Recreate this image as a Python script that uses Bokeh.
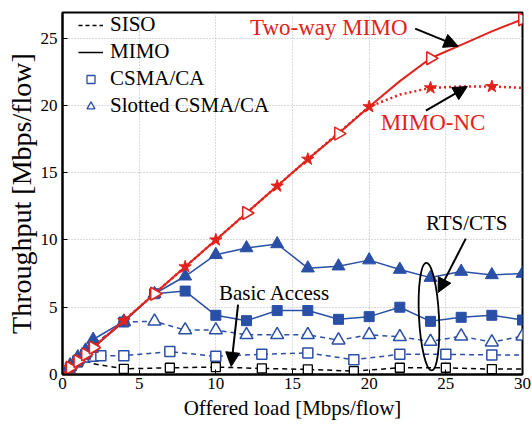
from bokeh.plotting import figure
from bokeh.models import (Range1d, FixedTicker, Legend, LegendItem, Arrow, NormalHead,
                          Label)
from bokeh.embed import file_html
from bokeh.resources import INLINE
import math

# ---------------- data ----------------
x_ticks = [0, 5, 10, 15, 20, 25, 30]
y_ticks = [0, 5, 10, 15, 20, 25]

# Two-way MIMO (red solid, open right-pointing triangles)
twoway_x = [0, 0.25, 0.5, 1, 1.5, 2, 4, 6, 8, 10, 12, 14, 16, 18, 20, 22, 24, 26, 28, 30]
twoway_y = [0, 0.25, 0.5, 1, 1.5, 2, 4, 6, 8, 10, 12, 14, 16, 17.9, 19.9, 21.8, 23.5, 24.5, 25.5, 26.4]
twoway_marks = [0.5, 1, 1.5, 2, 6, 12, 18, 24, 30]

# MIMO-NC (red dotted, stars)
nc_x = [0, 0.5, 1, 1.5, 2, 4, 8, 10, 14, 16, 20, 22, 24, 26, 28, 30]
nc_y = [0, 0.5, 1, 1.5, 2, 4, 8, 10, 14, 16, 19.9, 20.8, 21.3, 21.4, 21.4, 21.3]
nc_marks = [0.5, 1, 1.5, 2, 4, 8, 10, 14, 16, 20, 24, 28]

# MIMO, Slotted CSMA/CA, RTS/CTS (blue solid, filled triangles)
mimo_slot_x = [0, 0.5, 1, 1.5, 2, 4, 6, 8, 10, 12, 14, 16, 18, 20, 22, 24, 26, 28, 30]
mimo_slot_y = [0, 0.7, 1.3, 1.8, 2.6, 3.95, 6.0, 7.3, 8.9, 9.4, 9.7, 7.9, 8.05, 8.5, 7.8, 7.2, 7.65, 7.4, 7.5]

# MIMO, CSMA/CA, RTS/CTS (blue solid, filled squares)
mimo_csma_x = [0, 0.5, 1, 1.5, 2, 4, 6, 8, 10, 12, 14, 16, 18, 20, 22, 24, 26, 28, 30]
mimo_csma_y = [0, 0.5, 1.0, 1.5, 2.0, 3.9, 6.0, 6.2, 4.4, 4.0, 4.75, 4.75, 4.1, 4.3, 5.0, 3.95, 4.25, 4.4, 4.05]

# SISO, Slotted CSMA/CA (blue dashed, open triangles)
siso_slot_x = [0, 0.5, 1, 1.5, 2, 4, 6, 8, 10, 12, 14, 16, 18, 20, 22, 24, 26, 28, 30]
siso_slot_y = [0, 0.6, 1.1, 1.6, 2.2, 3.9, 3.95, 3.3, 3.3, 2.95, 2.95, 2.95, 2.55, 2.95, 2.8, 2.45, 2.85, 2.4, 2.85]

# SISO, CSMA/CA (blue dashed, open squares)
siso_csma_x = [0, 0.5, 1, 1.5, 2, 2.5, 4, 7, 10, 13, 16, 19, 22, 25, 28, 30]
siso_csma_y = [0, 0.5, 1.0, 1.3, 1.35, 1.4, 1.4, 1.7, 1.35, 1.5, 1.6, 1.1, 1.5, 1.5, 1.45, 1.45]
siso_csma_marks = [1, 1.5, 2, 2.5, 4, 7, 10, 13, 16, 19, 22, 25, 28]

# Basic access (black dashed, open squares)
basic_x = [0, 0.5, 1, 1.5, 2, 4, 7, 10, 13, 16, 19, 22, 25, 28, 30]
basic_y = [0, 0.5, 0.9, 1.0, 0.8, 0.42, 0.5, 0.55, 0.45, 0.38, 0.25, 0.5, 0.5, 0.4, 0.4]
basic_marks = [1, 4, 7, 10, 13, 16, 19, 22, 25, 28]

legend_labels = ["SISO", "MIMO", "CSMA/CA", "Slotted CSMA/CA"]


def subset(xs, ys, keep):
    return ([x for x in xs if x in keep], [y for x, y in zip(xs, ys) if x in keep])


RED = "#e3221c"
BLUE = "#2a4fa6"
FONT = "Liberation Serif"

p = figure(width=532, height=430, output_backend="svg", toolbar_location=None,
           x_range=Range1d(0, 30), y_range=Range1d(0, 26.9),
           min_border_left=62, min_border_right=10, min_border_top=12, min_border_bottom=56)
p.background_fill_color = "white"
p.border_fill_color = "white"
p.outline_line_color = "black"
p.outline_line_width = 2
p.outline_line_alpha = 1

for ax in (p.xaxis[0], p.yaxis[0]):
    ax.major_label_text_font = FONT
    ax.major_label_text_font_size = "17px"
    ax.major_label_text_color = "black"
    ax.axis_label_text_font = FONT
    ax.axis_label_text_font_style = "normal"
    ax.axis_label_text_color = "black"
    ax.axis_line_color = "black"
    ax.axis_line_width = 2
    ax.major_tick_in = 5
    ax.major_tick_out = 0
    ax.major_tick_line_color = "black"
    ax.minor_tick_line_color = None

p.xaxis.major_label_standoff = 3
p.xaxis.axis_label_standoff = 4
p.yaxis.major_label_standoff = 5
p.yaxis.axis_label_standoff = 1

p.xaxis.ticker = FixedTicker(ticks=x_ticks)
p.yaxis.ticker = FixedTicker(ticks=y_ticks)
p.xaxis.axis_label = "Offered load [Mbps/flow]"
p.yaxis.axis_label = "Throughput [Mbps/flow]"
p.xaxis.axis_label_text_font_size = "21px"
p.yaxis.axis_label_text_font_size = "28px"

for g in (p.xgrid[0], p.ygrid[0]):
    g.grid_line_color = "#b5b5b5"
    g.grid_line_dash = "1 2"
    g.grid_line_width = 1

# ---------------- series ----------------
# basic access (black)
p.line(basic_x, basic_y, line_color="black", line_width=1.5, line_dash="5 4")
bx, by = subset(basic_x, basic_y, basic_marks)
p.scatter(bx, by, marker="square", size=9, fill_color="white", line_color="black", line_width=1.3)

# SISO CSMA/CA
p.line(siso_csma_x, siso_csma_y, line_color=BLUE, line_width=1.5, line_dash="5 4")
sx, sy = subset(siso_csma_x, siso_csma_y, siso_csma_marks)
p.scatter(sx, sy, marker="square", size=10, fill_color="white", line_color=BLUE, line_width=1.5)

# SISO slotted
p.line(siso_slot_x, siso_slot_y, line_color=BLUE, line_width=1.5, line_dash="5 4")
p.scatter(siso_slot_x[1:], siso_slot_y[1:], marker="triangle", size=13, fill_color="white",
          line_color=BLUE, line_width=1.5)

# MIMO CSMA/CA
p.line(mimo_csma_x, mimo_csma_y, line_color=BLUE, line_width=1.5)
p.scatter(mimo_csma_x[1:], mimo_csma_y[1:], marker="square", size=10, fill_color=BLUE,
          line_color=BLUE)

# MIMO slotted
p.line(mimo_slot_x, mimo_slot_y, line_color=BLUE, line_width=1.5)
p.scatter(mimo_slot_x[1:], mimo_slot_y[1:], marker="triangle", size=13, fill_color=BLUE,
          line_color=BLUE)

# MIMO-NC
p.line(nc_x, nc_y, line_color=RED, line_width=2.5, line_dash="2 3")
nx, ny = subset(nc_x, nc_y, nc_marks)
p.scatter(nx, ny, marker="star", size=13, fill_color=RED, line_color=RED)

# Two-way MIMO
p.line(twoway_x, twoway_y, line_color=RED, line_width=2)
tx, ty = subset(twoway_x, twoway_y, twoway_marks)
p.scatter(tx, ty, marker="triangle", angle=-math.pi / 2, size=13, fill_color="white",
          line_color=RED, line_width=1.5)

# ---------------- annotations ----------------
p.add_layout(Label(x=22.5, y=25.8, text="Two-way MIMO", text_align="right", text_baseline="middle",
                   text_font=FONT, text_font_size="23px", text_color=RED))
p.add_layout(Label(x=20.75, y=18.7, text="MIMO-NC", text_align="left", text_baseline="middle",
                   text_font=FONT, text_font_size="23px", text_color=RED))
p.add_layout(Label(x=23.7, y=11.26, text="RTS/CTS", text_align="left", text_baseline="middle",
                   text_font=FONT, text_font_size="21px", text_color="black"))
p.add_layout(Label(x=10.2, y=6.07, text="Basic Access", text_align="left", text_baseline="middle",
                   text_font=FONT, text_font_size="21px", text_color="black"))

for (x0, y0, x1, y1) in [(23.0, 25.7, 25.8, 24.4), (23.7, 19.6, 26.4, 21.4),
                         (26.3, 10.1, 24.5, 6.1), (11.45, 5.2, 11.0, 0.6)]:
    p.add_layout(Arrow(x_start=x0, y_start=y0, x_end=x1, y_end=y1, line_color="black",
                       line_width=2,
                       end=NormalHead(size=14, fill_color="black", line_color="black")))

p.ellipse(x=[23.9], y=[4.3], width=20, height=108, width_units="screen", height_units="screen",
          angle=0.05, fill_color=None, line_color="black", line_width=1.8)

# ---------------- legend (proxy renderers placed outside the visible range) ----------------
r_siso = p.line([-10, -9], [-10, -10], line_color="black", line_width=1.5, line_dash="4 3")
r_mimo = p.line([-10, -9], [-10, -10], line_color="black", line_width=1.5)
r_csma = p.scatter([-10], [-10], marker="square", size=8, fill_color="white", line_color=BLUE,
                   line_width=1.3)
r_slot = p.scatter([-10], [-10], marker="triangle", size=9, fill_color="white", line_color=BLUE,
                   line_width=1.3)
legend = Legend(items=[LegendItem(label=lab, renderers=[r])
                       for lab, r in zip(legend_labels, [r_siso, r_mimo, r_csma, r_slot])],
                location=(16, 256), margin=0, padding=0, spacing=2,
                glyph_width=25, glyph_height=20, label_height=20, label_standoff=7,
                label_text_font=FONT, label_text_font_size="21px", label_text_color="black",
                background_fill_alpha=0, border_line_alpha=0)
p.add_layout(legend)

open("out.html", "w").write(file_html(p, INLINE))
